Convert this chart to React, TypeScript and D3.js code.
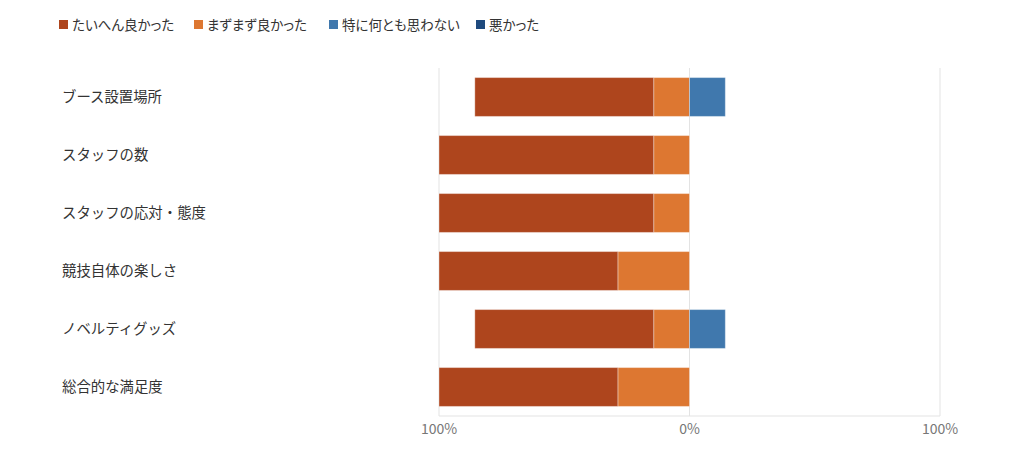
import React from "react";
import * as d3 from "d3";

const categories = [
  "ブース設置場所",
  "スタッフの数",
  "スタッフの応対・態度",
  "競技自体の楽しさ",
  "ノベルティグッズ",
  "総合的な満足度",
];

const seriesNames = ["たいへん良かった", "まずまず良かった", "特に何とも思わない", "悪かった"];
const seriesColors = ["#ae451d", "#dd7731", "#4078ad", "#1e4a7e"];

// percent of answers per category
const veryGood = [71.4, 85.7, 85.7, 71.4, 71.4, 71.4];
const fairlyGood = [14.3, 14.3, 14.3, 28.6, 14.3, 28.6];
const neutral = [14.3, 0, 0, 0, 14.3, 0];
const bad = [0, 0, 0, 0, 0, 0];

const tickValues = [-100, 0, 100];

const width = 1024;
const height = 458;
const margin = { top: 68, right: 84, bottom: 42, left: 439 };
const font = "'Noto Sans CJK JP', 'Noto Sans', sans-serif";

const App: React.FC = () => {
  const x = d3
    .scaleLinear()
    .domain([-100, 100])
    .range([margin.left, width - margin.right]);
  const y = d3
    .scaleBand()
    .domain(categories)
    .range([margin.top, height - margin.bottom])
    .paddingInner(0.33)
    .paddingOuter(0.165);

  // left side: good answers stacked outward from 0, right side: the rest
  const segments = categories.flatMap((c, i) => {
    const out: { cat: string; x0: number; x1: number; color: string; key: string }[] = [];
    let left = 0;
    [fairlyGood[i], veryGood[i]].forEach((v, j) => {
      const color = j === 0 ? seriesColors[1] : seriesColors[0];
      if (v > 0) out.push({ cat: c, x0: left - v, x1: left, color, key: `${c}-l${j}` });
      left -= v;
    });
    let right = 0;
    [neutral[i], bad[i]].forEach((v, j) => {
      if (v > 0) out.push({ cat: c, x0: right, x1: right + v, color: seriesColors[2 + j], key: `${c}-r${j}` });
      right += v;
    });
    return out;
  });

  const legendX = [59, 194, 329, 476];
  const plotBottom = height - margin.bottom;

  return (
    <svg width={width} height={height} style={{ position: "absolute", left: 0, top: 0, fontFamily: font }}>
      <rect width={width} height={height} fill="#fff" />
      {seriesNames.map((s, i) => (
        <g key={s} transform={`translate(${legendX[i]},20)`}>
          <rect width={9} height={9} fill={seriesColors[i]} />
          <text x={13} y={5} dy="0.35em" fontSize={13.5} fill="#333" style={{ fontFeatureSettings: "'palt'" }}>
            {s}
          </text>
        </g>
      ))}
      {tickValues.map((t) => (
        <line key={t} x1={x(t)} x2={x(t)} y1={margin.top} y2={plotBottom} stroke="#e3e3e3" />
      ))}
      <line x1={x(-100)} x2={x(100)} y1={plotBottom} y2={plotBottom} stroke="#e3e3e3" />
      {segments.map((s) => (
        <rect
          key={s.key}
          x={x(s.x0)}
          y={y(s.cat)!}
          width={x(s.x1) - x(s.x0)}
          height={y.bandwidth()}
          fill={s.color}
          stroke="rgba(255,255,255,0.35)"
          strokeWidth={1}
        />
      ))}
      {categories.map((c) => (
        <text key={c} x={62} y={y(c)! + y.bandwidth() / 2} dy="0.35em" fontSize={14.4} fill="#333">
          {c}
        </text>
      ))}
      {tickValues.map((t) => (
        <text key={t} x={x(t)} y={429} dy="0.35em" textAnchor="middle" fontSize={14} fill="#777">
          {`${Math.abs(t)}%`}
        </text>
      ))}
    </svg>
  );
};

export default App;
